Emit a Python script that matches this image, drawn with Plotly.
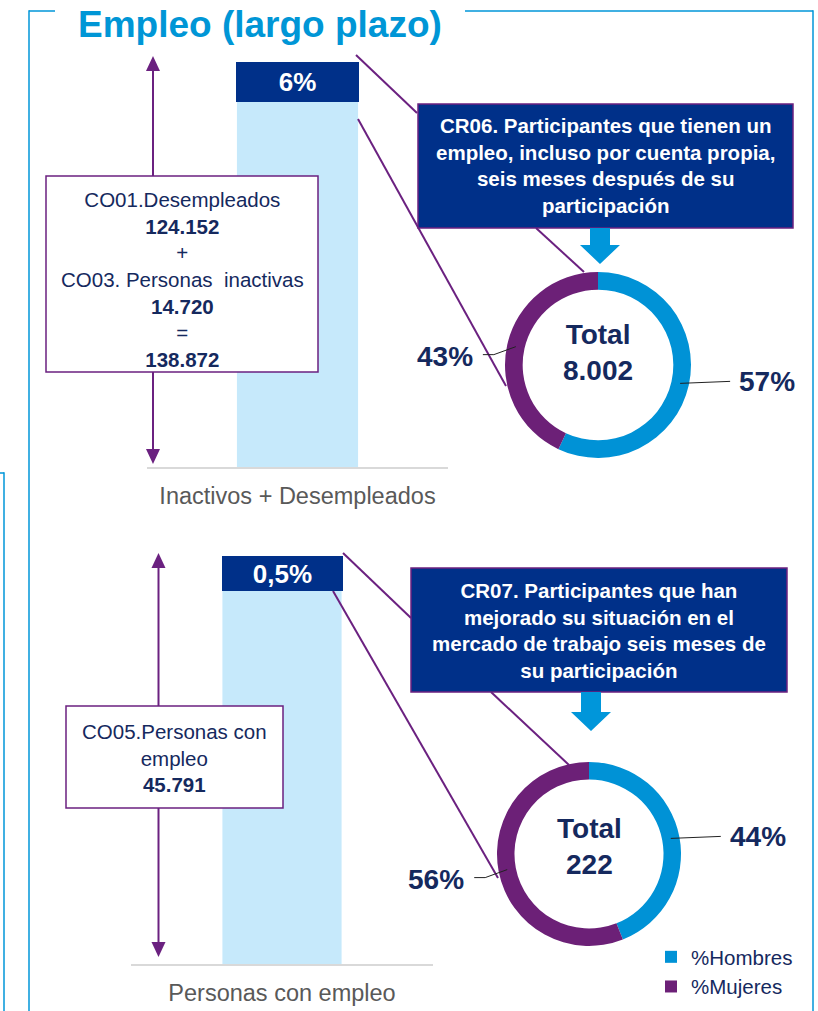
import math
import plotly.graph_objects as go

W, H = 818, 1011

# ---------------- data ----------------
bar_categories = ["Inactivos + Desempleados", "Personas con empleo"]
bar_values = [138872, 45791]
co01_desempleados = 124152
co03_inactivas = 14720
co05_empleados = 45791
rate_labels = ["6%", "0,5%"]
result_totals = [8002, 222]
result_titles = [
    "CR06. Participantes que tienen un<br>empleo, incluso por cuenta propia,<br>seis meses después de su<br>participación",
    "CR07. Participantes que han<br>mejorado su situación en el<br>mercado de trabajo seis meses de<br>su participación",
]
sex_labels = ["%Hombres", "%Mujeres"]
pct_hombres = [57, 44]
pct_mujeres = [43, 56]

# ---------------- style ----------------
FONT = "Liberation Sans, Arial, sans-serif"
NAVY = "#15295E"
BOXBLUE = "#003089"
PURPLE = "#6B2180"
DONUT_BLUE = "#0092D6"
DONUT_PURPLE = "#6C2077"
FRAME = "#0096D8"
BAR = "#C6E9FB"
GREY = "#595959"


def X(px):
    return px / W


def Y(py):
    return 1 - py / H


def fmt(n):
    return f"{n:,}".replace(",", ".")


# layout geometry (pixels)
panels = [
    dict(ax=(147, 448), ay=(86, 467), rate_box=(123, 40, 4),
         donut=(598, 365, 93), center_shift=13,
         crbox=(418, 793, 104, 228), down=(600, 228, 264),
         varrow=(153, 56, 464), cobox=(46, 318, 176, 372),
         links=[((356, 55), (417, 113)), ((358, 119), (506, 386)), ((536, 228), (584, 272))]),
    dict(ax=(131, 433), ay=(591, 964), rate_box=(121, 35, 17.5),
         donut=(589, 854, 92), center_shift=8,
         crbox=(411, 787, 568, 692), down=(591, 692, 731),
         varrow=(158.5, 553, 957), cobox=(66, 283, 706, 808),
         links=[((343, 553), (411, 618)), ((333, 591), (498, 878)), ((491, 692), (569, 765))]),
]

HOLE = 0.81

fig = go.Figure()
shapes = []
annotations = []


def line(x0, y0, x1, y1, color, width=2):
    shapes.append(dict(type="line", xref="paper", yref="paper",
                       x0=X(x0), y0=Y(y0), x1=X(x1), y1=Y(y1),
                       line=dict(color=color, width=width)))


def poly(points, color):
    d = "M " + " L ".join(f"{X(px):.6f},{Y(py):.6f}" for px, py in points) + " Z"
    shapes.append(dict(type="path", xref="paper", yref="paper", path=d,
                       fillcolor=color, line=dict(width=0)))


def rect(x0, x1, y0, y1, fill, border, width=1.5):
    shapes.append(dict(type="rect", xref="paper", yref="paper",
                       x0=X(x0), x1=X(x1), y0=Y(y1), y1=Y(y0),
                       fillcolor=fill, line=dict(color=border, width=width)))


def text(px, py, s, size, color, bold=False, xanchor="center", family=FONT):
    annotations.append(dict(xref="paper", yref="paper", x=X(px), y=Y(py),
                            text=(f"<b>{s}</b>" if bold else s), showarrow=False,
                            xanchor=xanchor, yanchor="middle",
                            font=dict(family=family, size=size, color=color)))


# ---------------- outer frame and title ----------------
line(29, 11, 55, 11, FRAME, 1.5)
line(465, 11, 813, 11, FRAME, 1.5)
line(29, 10.3, 29, 1011, FRAME, 1.5)
line(813, 10.3, 813, 1011, FRAME, 1.5)
line(0, 473, 4, 473, FRAME, 1.5)
line(4, 472.3, 4, 1011, FRAME, 1.5)
text(76, 24, "Empleo (largo plazo)", 37, "#0096D6", bold=True, xanchor="left")

# ---------------- panels ----------------
layout_axes = {}
for i, p in enumerate(panels):
    xa = "x" if i == 0 else f"x{i+1}"
    ya = "y" if i == 0 else f"y{i+1}"
    xkey = "xaxis" if i == 0 else f"xaxis{i+1}"
    ykey = "yaxis" if i == 0 else f"yaxis{i+1}"
    axw = p["ax"][1] - p["ax"][0]
    bw, bh, bshift = p["rate_box"]

    fig.add_trace(go.Bar(x=[bar_categories[i]], y=[bar_values[i]], xaxis=xa, yaxis=ya,
                         marker=dict(color=BAR, line=dict(width=0)), width=bw / axw * 0.985,
                         showlegend=False, hoverinfo="x+y"))
    layout_axes[xkey] = dict(domain=[X(p["ax"][0]), X(p["ax"][1])], type="category",
                             range=[-0.5, 0.5], showline=True, linecolor="#D9D9D9", linewidth=2,
                             showgrid=False, zeroline=False, ticks="", anchor=ya,
                             ticklabelstandoff=7,
                             tickfont=dict(family=FONT, size=23.5, color=GREY), fixedrange=True)
    layout_axes[ykey] = dict(domain=[Y(p["ay"][1]), Y(p["ay"][0])], range=[0, bar_values[i]],
                             visible=False, anchor=xa, fixedrange=True)

    # rate box on top of bar
    annotations.append(dict(xref=xa, yref=ya, x=bar_categories[i], y=bar_values[i],
                            text=f"<b>{rate_labels[i]}</b>", showarrow=False,
                            xanchor="center", yanchor="middle", yshift=bshift,
                            width=bw, height=bh, bgcolor=BOXBLUE, borderpad=0, borderwidth=0,
                            font=dict(family=FONT, size=26, color="white")))

    # vertical double arrow with box
    ax_, top, bot = p["varrow"]
    bx0, bx1, by0, by1 = p["cobox"]
    line(ax_, top + 12, ax_, by0, PURPLE, 2)
    line(ax_, by1, ax_, bot - 12, PURPLE, 2)
    poly([(ax_, top), (ax_ - 7, top + 15), (ax_ + 7, top + 15)], PURPLE)
    poly([(ax_, bot), (ax_ - 7, bot - 15), (ax_ + 7, bot - 15)], PURPLE)
    rect(bx0, bx1, by0, by1, "white", PURPLE, 1.5)

    # connector lines
    for (a, b) in p["links"]:
        line(a[0], a[1], b[0], b[1], PURPLE, 2)

    # result box
    cx0, cx1, cy0, cy1 = p["crbox"]
    rect(cx0, cx1, cy0, cy1, BOXBLUE, PURPLE, 1.5)
    text((cx0 + cx1) / 2, (cy0 + cy1) / 2, result_titles[i], 20.5, "white", bold=True)

    # down arrow
    dx, d0, d1 = p["down"]
    poly([(dx - 10, d0), (dx + 10, d0), (dx + 10, d1 - 19), (dx + 20, d1 - 19),
          (dx, d1), (dx - 20, d1 - 19), (dx - 10, d1 - 19)], "#0096DA")

    # donut
    cx, cy, r = p["donut"]
    vals = [pct_hombres[i], pct_mujeres[i]]
    fig.add_trace(go.Pie(labels=sex_labels, values=vals, hole=HOLE, sort=False,
                         direction="clockwise", rotation=0, textinfo="none",
                         marker=dict(colors=[DONUT_BLUE, DONUT_PURPLE], line=dict(width=0)),
                         domain=dict(x=[X(cx - r), X(cx + r)], y=[Y(cy + r), Y(cy - r)]),
                         showlegend=(i == 0), hoverinfo="label+value"))
    text(cx, cy - p["center_shift"], f"Total<br>{fmt(result_totals[i])}", 28, NAVY, bold=True)

    # percentage labels with leader lines
    rmid = r * (1 + HOLE) / 2
    start = 0.0
    total = sum(vals)
    for v in vals:
        mid = (start + v / 2) / total * 2 * math.pi
        start += v
        px = cx + rmid * math.sin(mid)
        py = cy - rmid * math.cos(mid)
        if math.sin(mid) >= 0:
            line(px, py, px + 50, py - 2, "#222222", 1)
            text(px + 57, py - 1.5, f"{v}%", 28, NAVY, bold=True, xanchor="left")
        else:
            line(px, py, px - 22, py + 8, "#222222", 1)
            line(px - 22, py + 8, px - 33, py + 8, "#222222", 1)
            text(px - 41, py + 9.5, f"{v}%", 28, NAVY, bold=True, xanchor="right")

# CO boxes text
text(182, 279,
     f"CO01.Desempleados<br><b>{fmt(co01_desempleados)}</b><br>+<br>CO03. Personas\u00a0 inactivas"
     f"<br><b>{fmt(co03_inactivas)}</b><br>=<br><b>{fmt(co01_desempleados + co03_inactivas)}</b>",
     20.5, NAVY)
text(174, 757.5, f"CO05.Personas con<br>empleo<br><b>{fmt(co05_empleados)}</b>", 20.5, NAVY)

fig.update_layout(
    width=W, height=H, margin=dict(l=0, r=0, t=0, b=0),
    paper_bgcolor="white", plot_bgcolor="white",
    shapes=shapes, annotations=annotations,
    showlegend=True,
    legend=dict(x=X(651), y=Y(937), xanchor="left", yanchor="top",
                font=dict(family=FONT, size=20.5, color=NAVY), bgcolor="rgba(0,0,0,0)",
                tracegroupgap=0),
    **layout_axes,
)

fig.write_html("out.html", config={"displayModeBar": False},
               post_script="document.body.style.margin='0px';")
